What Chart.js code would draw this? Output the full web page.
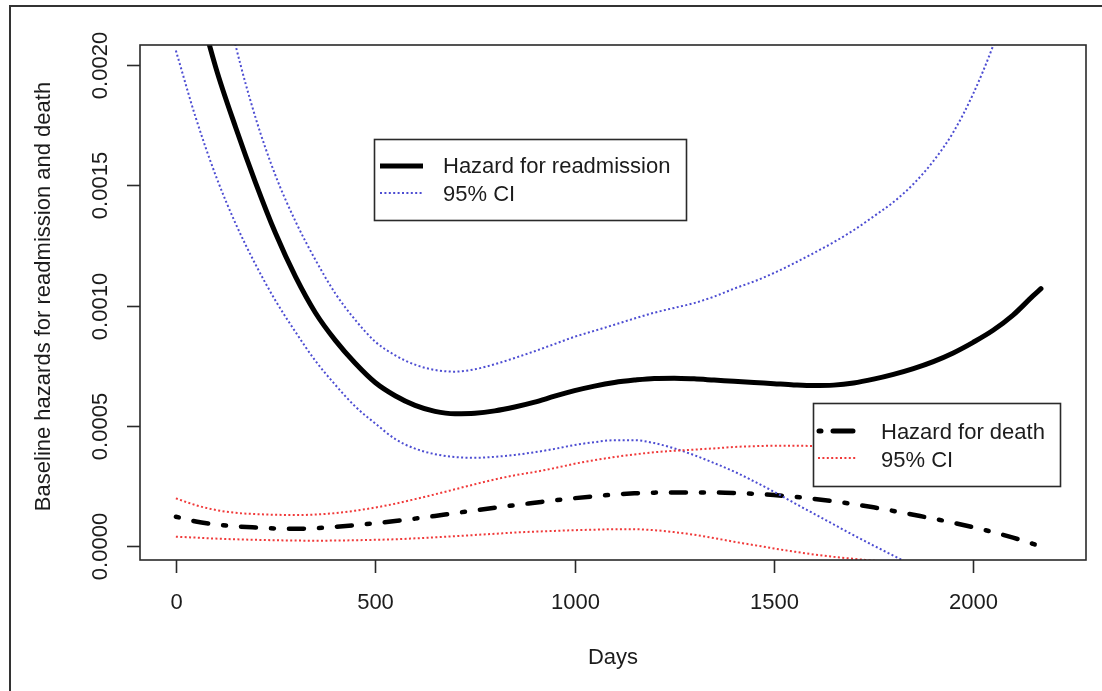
<!DOCTYPE html>
<html>
<head>
<meta charset="utf-8">
<script src="https://cdn.jsdelivr.net/npm/chart.js@4.4.0/dist/chart.umd.min.js"></script>
<style>
body { margin: 0; background: #fff; }
canvas { display: block; }
</style>
</head>
<body>
<canvas id="hazardChart" width="1102" height="691"></canvas>
<script>
// values (days, baseline hazard)
var days = [0, 50, 100, 150, 200, 250, 300, 350, 400, 450, 500, 550, 600, 650, 700, 750, 800, 850, 900, 950,
  1000, 1050, 1100, 1150, 1200, 1250, 1300, 1350, 1400, 1450, 1500, 1550, 1600, 1650, 1700, 1750, 1800, 1850,
  1900, 1950, 2000, 2050, 2100, 2150, 2170];

var readmission = [0.00265, 0.00230, 0.00199, 0.00174, 0.00151, 0.00130, 0.00112, 0.00097, 0.000855, 0.00076,
  0.00068, 0.000625, 0.000585, 0.000560, 0.000550, 0.000552, 0.000562, 0.000578, 0.000598, 0.000623,
  0.000646, 0.000665, 0.000680, 0.000690, 0.000697, 0.000698, 0.000695, 0.000690, 0.000685, 0.000680,
  0.000675, 0.000670, 0.000667, 0.000669, 0.000678, 0.000694, 0.000714, 0.000738, 0.000767, 0.000803,
  0.000847, 0.000897, 0.00096, 0.00104, 0.00107];

var readmissionLo = [0.00206, 0.00178, 0.00154, 0.00134, 0.00117, 0.00102, 0.00089, 0.00077, 0.00067, 0.00058,
  0.00051, 0.000445, 0.000405, 0.000382, 0.00037, 0.000367, 0.000371, 0.000379, 0.00039, 0.000404,
  0.00042, 0.000432, 0.00044, 0.00044, 0.000428, 0.000406, 0.000378, 0.000345, 0.00031, 0.000269,
  0.000226, 0.00018, 0.000135, 0.00009, 0.000045, 0.000002, -0.00004, -0.000082, -0.000125, -0.00017,
  -0.00022, -0.00027, -0.00032, -0.00037, -0.00039];

var readmissionHi = [0.0034, 0.0029, 0.00245, 0.00208, 0.00178, 0.00154, 0.00135, 0.00119, 0.00105, 0.00094,
  0.00085, 0.000793, 0.000754, 0.000732, 0.000725, 0.000735, 0.000756, 0.000782, 0.00081, 0.00084,
  0.00087, 0.000895, 0.00092, 0.000946, 0.00097, 0.00099, 0.00101, 0.001037, 0.00107, 0.0011,
  0.001135, 0.001175, 0.001218, 0.001263, 0.001313, 0.00137, 0.00143, 0.001505, 0.0016, 0.00172,
  0.00188, 0.00208, 0.00232, 0.0026, 0.0027];

var death = [0.000122, 0.000102, 0.00009, 0.000082, 0.000077, 0.000073, 0.000072, 0.000074, 0.000080, 0.000087,
  0.000095, 0.000104, 0.000114, 0.000125, 0.000137, 0.000148, 0.000159, 0.00017, 0.00018, 0.00019,
  0.000199, 0.000207, 0.000214, 0.000219, 0.000222, 0.000223, 0.000223, 0.000223, 0.000221, 0.000217,
  0.000212, 0.000205, 0.000196, 0.000186, 0.000174, 0.000161, 0.000146, 0.00013, 0.000114, 0.000097,
  0.000078, 0.000058, 0.000035, 0.000009, -0.000003];

var deathHi = [0.000198, 0.00017, 0.00015, 0.000138, 0.000133, 0.00013, 0.000129, 0.000131, 0.000137, 0.000147,
  0.00016, 0.000176, 0.000195, 0.000215, 0.000236, 0.000257, 0.000277, 0.000294, 0.000308, 0.000324,
  0.000342, 0.000357, 0.00037, 0.000381, 0.00039, 0.000396, 0.000401, 0.000406, 0.000412, 0.000415,
  0.000417, 0.000417, 0.000416, 0.000414, 0.00041, 0.000405, 0.0004, 0.000395, 0.00039, 0.000385,
  0.00038, 0.000375, 0.00037, 0.000365, 0.00036];

var deathLo = [0.000039, 0.000035, 0.000031, 0.000028, 0.000026, 0.000024, 0.000023, 0.000022, 0.000023, 0.000024,
  0.000026, 0.000028, 0.000032, 0.000036, 0.000041, 0.000046, 0.000051, 0.000056, 0.00006, 0.000063,
  0.000066, 0.000068, 0.00007, 0.00007, 0.000066, 0.000058, 0.000047, 0.000033, 0.000018, 0.000004,
  -0.00001, -0.000023, -0.000035, -0.000045, -0.000053, -0.000061, -0.00007, -0.00008, -0.00009, -0.0001,
  -0.00011, -0.00012, -0.00013, -0.00014, -0.000145];

var xTicks = [0, 500, 1000, 1500, 2000];
var yTicks = [0, 0.0005, 0.001, 0.0015, 0.002];
var yTickLabels = ['0.0000', '0.0005', '0.0010', '0.0015', '0.0020'];

var FONT = '22px "Liberation Sans", Arial, sans-serif';
var INK = '#1c1c1c';
var BLUE = '#4d4dd2';
var RED = '#f03a3a';
var DOTS = [2, 2.4];

function pts(arr) {
  return days.map(function (d, i) { return { x: d, y: arr[i] }; });
}

function series(label, arr, color, width, dash, cap) {
  return {
    label: label,
    data: pts(arr),
    borderColor: color,
    borderWidth: width,
    borderDash: dash,
    borderCapStyle: cap || 'butt',
    pointRadius: 0,
    cubicInterpolationMode: 'monotone',
    fill: false,
    clip: 0
  };
}

// R-style box, ticks, labels and the two legends
var basePlot = {
  id: 'basePlot',
  afterDatasetsDraw: function (chart) {
    var ctx = chart.ctx;
    var a = chart.chartArea;
    var xs = chart.scales.x;
    var ys = chart.scales.y;
    ctx.save();

    // outer frame
    ctx.strokeStyle = '#333';
    ctx.lineWidth = 2;
    ctx.beginPath();
    ctx.moveTo(10, 691);
    ctx.lineTo(10, 6);
    ctx.lineTo(1102, 6);
    ctx.stroke();

    // plot box
    ctx.lineWidth = 1.6;
    ctx.strokeStyle = '#2a2a2a';
    ctx.strokeRect(a.left, a.top, a.right - a.left, a.bottom - a.top);

    ctx.fillStyle = INK;
    ctx.font = FONT;

    // x axis
    ctx.textAlign = 'center';
    ctx.textBaseline = 'middle';
    xTicks.forEach(function (t) {
      var px = Math.round(xs.getPixelForValue(t)) + 0.5;
      ctx.beginPath();
      ctx.moveTo(px, a.bottom);
      ctx.lineTo(px, a.bottom + 13);
      ctx.stroke();
      ctx.fillText(String(t), px, 603);
    });
    ctx.fillText('Days', (a.left + a.right) / 2, 658);

    // y axis
    yTicks.forEach(function (t, i) {
      var py = Math.round(ys.getPixelForValue(t)) + 0.5;
      ctx.beginPath();
      ctx.moveTo(a.left, py);
      ctx.lineTo(a.left - 13, py);
      ctx.stroke();
      ctx.save();
      ctx.translate(101, py);
      ctx.rotate(-Math.PI / 2);
      ctx.fillText(yTickLabels[i], 0, 0);
      ctx.restore();
    });
    ctx.save();
    ctx.translate(44, (a.top + a.bottom) / 2 - 6);
    ctx.rotate(-Math.PI / 2);
    ctx.fillText('Baseline hazards for readmission and death', 0, 0);
    ctx.restore();

    // legend: readmission
    ctx.fillStyle = '#fff';
    ctx.fillRect(374, 139, 313, 81);
    ctx.strokeStyle = '#2a2a2a';
    ctx.lineWidth = 1.6;
    ctx.strokeRect(374.5, 139.5, 312, 81);
    ctx.strokeStyle = '#000';
    ctx.lineWidth = 5;
    ctx.beginPath();
    ctx.moveTo(380, 166);
    ctx.lineTo(423, 166);
    ctx.stroke();
    ctx.strokeStyle = BLUE;
    ctx.lineWidth = 2;
    ctx.setLineDash(DOTS);
    ctx.beginPath();
    ctx.moveTo(380, 193);
    ctx.lineTo(423, 193);
    ctx.stroke();
    ctx.setLineDash([]);
    ctx.fillStyle = INK;
    ctx.textAlign = 'left';
    ctx.fillText('Hazard for readmission', 443, 167);
    ctx.fillText('95% CI', 443, 195);

    // legend: death
    ctx.fillStyle = '#fff';
    ctx.fillRect(813, 403, 248, 83);
    ctx.strokeStyle = '#2a2a2a';
    ctx.lineWidth = 1.6;
    ctx.strokeRect(813.5, 403.5, 247, 83);
    ctx.strokeStyle = '#000';
    ctx.lineWidth = 5;
    ctx.lineCap = 'round';
    ctx.setLineDash([2, 12, 20, 100]);
    ctx.beginPath();
    ctx.moveTo(819, 431);
    ctx.lineTo(855, 431);
    ctx.stroke();
    ctx.lineCap = 'butt';
    ctx.strokeStyle = RED;
    ctx.lineWidth = 2;
    ctx.setLineDash(DOTS);
    ctx.beginPath();
    ctx.moveTo(818, 458);
    ctx.lineTo(856, 458);
    ctx.stroke();
    ctx.setLineDash([]);
    ctx.fillStyle = INK;
    ctx.fillText('Hazard for death', 881, 433);
    ctx.fillText('95% CI', 881, 461);

    ctx.restore();
  }
};

new Chart(document.getElementById('hazardChart'), {
  type: 'line',
  data: {
    datasets: [
      series('95% CI upper (death)', deathHi, RED, 2, DOTS),
      series('95% CI lower (death)', deathLo, RED, 2, DOTS),
      series('95% CI upper (readmission)', readmissionHi, BLUE, 2, DOTS),
      series('95% CI lower (readmission)', readmissionLo, BLUE, 2, DOTS),
      series('Hazard for death', death, '#000', 4.5, [3, 15, 15, 15], 'round'),
      series('Hazard for readmission', readmission, '#000', 5, [], 'round')
    ]
  },
  options: {
    responsive: false,
    animation: false,
    layout: { padding: { left: 140, top: 45, right: 16, bottom: 131 } },
    plugins: { legend: { display: false }, tooltip: { enabled: false } },
    scales: {
      x: { type: 'linear', min: -90, max: 2283, display: false },
      y: { type: 'linear', min: -0.000058, max: 0.002083, display: false }
    }
  },
  plugins: [basePlot]
});
</script>
</body>
</html>
